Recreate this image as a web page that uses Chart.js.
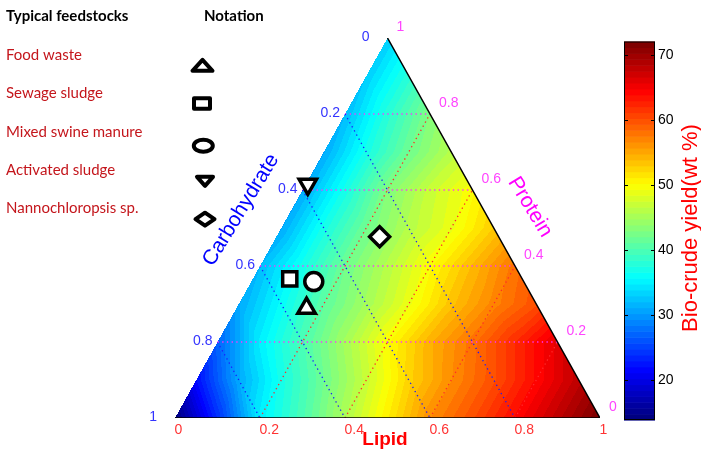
<!DOCTYPE html>
<html>
<head>
<meta charset="utf-8">
<script src="https://cdn.jsdelivr.net/npm/chart.js@4/dist/chart.umd.min.js"></script>
<style>
  body { margin: 0; background: #fff; }
  #wrap { width: 701px; height: 451px; }
</style>
</head>
<body>
<div id="wrap"><canvas id="ternaryChart" width="701" height="451"></canvas></div>
<script>
// feedstock composition (mass fraction), carbohydrate = 1 - lipid - protein
var feedstocks = ['Food waste', 'Sewage sludge', 'Mixed swine manure', 'Activated sludge', 'Nannochloropsis sp.'];
var lipidShare = [0.165, 0.087, 0.147, 0.005, 0.243];
var proteinShare = [0.289, 0.366, 0.359, 0.615, 0.477];
var markerStyles = ['triangle', 'rect', 'circle', 'triangle', 'rectRot'];
var markerRotation = [0, 0, 0, 180, 0];

// axis ticks
var lipidTicks = [0, 0.2, 0.4, 0.6, 0.8, 1];
var proteinTicks = [0, 0.2, 0.4, 0.6, 0.8, 1];
var carbTicks = [0, 0.2, 0.4, 0.6, 0.8, 1];
var gridLevels = [0.2, 0.4, 0.6, 0.8];
var colorbarTicks = [20, 30, 40, 50, 60, 70];
var colorbarRange = [13.9, 72];

// bio-crude yield (wt %) read at lipid = 0, 0.1, 0.2 ... for each protein level
var yieldP00 = [14, 24, 35, 40, 45.5, 51, 56.5, 60, 64, 68, 72];
var yieldP01 = [22, 31, 37, 42, 47, 52.5, 56.5, 60, 64, 68];
var yieldP02 = [27, 35, 40, 45, 50, 54.5, 58, 62, 66];
var yieldP03 = [31, 36, 41, 45, 49, 53.5, 57, 60];
var yieldP04 = [32, 37, 42, 46, 50, 54, 58];
var yieldP05 = [31, 37, 42, 46, 49, 53];
var yieldP06 = [31, 37, 43, 47, 50];
var yieldP07 = [31, 37, 42, 46];
var yieldP08 = [32, 38, 43];
var yieldP09 = [33, 38];
var yieldP10 = [33];
var yieldRows = [yieldP00, yieldP01, yieldP02, yieldP03, yieldP04, yieldP05,
                 yieldP06, yieldP07, yieldP08, yieldP09, yieldP10];

// ternary -> cartesian (lipid along the base, protein up)
function tern(L, P) { return { x: L + P / 2, y: P }; }

function jet(v) {
    var t = (v - colorbarRange[0]) / (colorbarRange[1] - colorbarRange[0]);
    var idx = Math.max(0, Math.min(63, Math.floor(t * 64)));
    t = idx / 63;
    function c(a) { return Math.round(255 * Math.max(0, Math.min(1, a))); }
    return [c(1.5 - Math.abs(4 * t - 3)), c(1.5 - Math.abs(4 * t - 2)), c(1.5 - Math.abs(4 * t - 1))];
}

function node(r, c) { return yieldRows[r][c]; }

function yieldAt(L, P) {
    var i = P * 10, j = L * 10;
    var r = Math.floor(i), c = Math.floor(j);
    if (r > 9) r = 9;
    if (r + c > 9) c = 9 - r;
    if (c < 0) c = 0;
    var fi = i - r, fj = j - c;
    if (fi + fj <= 1) {
        var v0 = node(r, c);
        return v0 + fi * (node(r + 1, c) - v0) + fj * (node(r, c + 1) - v0);
    }
    var v1 = node(r + 1, c + 1);
    return v1 + (1 - fi) * (node(r, c + 1) - v1) + (1 - fj) * (node(r + 1, c) - v1);
}

var datasets = [];

// markers
feedstocks.forEach(function (name, k) {
    datasets.push({
        label: name,
        data: [tern(lipidShare[k], proteinShare[k])],
        pointStyle: markerStyles[k],
        rotation: markerRotation[k],
        pointRadius: markerStyles[k] === 'circle' ? 9 : 10,
        borderWidth: 3.5,
        borderColor: '#000',
        backgroundColor: '#fff',
        order: 0
    });
});

// dotted grid lines
gridLevels.forEach(function (g) {
    datasets.push({ data: [tern(0, g), tern(1 - g, g)], showLine: true, pointRadius: 0,
        borderColor: '#ff33ff', borderWidth: 1.3, borderDash: [1.3, 3.4], order: 2 });
    datasets.push({ data: [tern(0, 1 - g), tern(1 - g, 0)], showLine: true, pointRadius: 0,
        borderColor: '#1a1aff', borderWidth: 1.3, borderDash: [1.3, 3.4], order: 2 });
    datasets.push({ data: [tern(g, 0), tern(g, 1 - g)], showLine: true, pointRadius: 0,
        borderColor: '#ff2a2a', borderWidth: 1.3, borderDash: [1.3, 3.4], order: 2 });
});

// triangle outline (base and right edge)
datasets.push({ data: [tern(0, 0), tern(1, 0), tern(0, 1)], showLine: true, pointRadius: 0,
    borderColor: '#000', borderWidth: 1.5, order: 1 });

var fieldPlugin = {
    id: 'yieldField',
    beforeDatasetsDraw: function (chart) {
        var ctx = chart.ctx, xs = chart.scales.x, ys = chart.scales.y, area = chart.chartArea;
        var x0 = Math.floor(area.left), y0 = Math.floor(area.top);
        var w = Math.ceil(area.right) - x0 + 1, h = Math.ceil(area.bottom) - y0 + 1;
        var off = document.createElement('canvas');
        off.width = w; off.height = h;
        var octx = off.getContext('2d');
        var img = octx.createImageData(w, h);
        for (var py = 0; py < h; py++) {
            var P = ys.getValueForPixel(y0 + py + 0.5);
            for (var px = 0; px < w; px++) {
                var L = xs.getValueForPixel(x0 + px + 0.5) - P / 2;
                if (P < 0 || L < 0 || L + P > 1) continue;
                var col = jet(yieldAt(L, P));
                var k = (py * w + px) * 4;
                img.data[k] = col[0]; img.data[k + 1] = col[1]; img.data[k + 2] = col[2]; img.data[k + 3] = 255;
            }
        }
        octx.putImageData(img, 0, 0);
        ctx.drawImage(off, x0, y0);
    }
};

function text(ctx, s, x, y, font, color, align, angle) {
    ctx.save();
    ctx.translate(x, y);
    if (angle) ctx.rotate(angle * Math.PI / 180);
    ctx.font = font;
    ctx.fillStyle = color;
    ctx.textAlign = align || 'center';
    ctx.textBaseline = 'middle';
    ctx.fillText(s, 0, 0);
    ctx.restore();
}

function legendShape(ctx, k, cx, cy) {
    ctx.save();
    ctx.beginPath();
    if (k === 0) {
        ctx.moveTo(cx, cy - 5.5); ctx.lineTo(cx + 10, cy + 5.5); ctx.lineTo(cx - 10, cy + 5.5); ctx.closePath();
    } else if (k === 1) {
        ctx.rect(cx - 8, cy - 5.3, 16, 10.6);
    } else if (k === 2) {
        ctx.ellipse(cx, cy, 9.5, 6, 0, 0, Math.PI * 2);
    } else if (k === 3) {
        ctx.moveTo(cx - 8, cy - 4.5); ctx.lineTo(cx + 8, cy - 4.5); ctx.lineTo(cx, cy + 4.5); ctx.closePath();
    } else {
        ctx.moveTo(cx, cy - 6.5); ctx.lineTo(cx + 9.5, cy); ctx.lineTo(cx, cy + 6.5); ctx.lineTo(cx - 9.5, cy); ctx.closePath();
    }
    ctx.fillStyle = '#fff';
    ctx.fill();
    ctx.lineWidth = 4;
    ctx.lineJoin = 'round';
    ctx.strokeStyle = '#000';
    ctx.stroke();
    ctx.restore();
}

var labelPlugin = {
    id: 'labels',
    afterDraw: function (chart) {
        var ctx = chart.ctx, xs = chart.scales.x, ys = chart.scales.y;
        var tickFont = '14px "Liberation Sans", Arial, sans-serif';

        // lipid ticks (bottom)
        lipidTicks.forEach(function (v) {
            var p = tern(v, 0);
            text(ctx, String(v), xs.getPixelForValue(p.x) - 0.5, ys.getPixelForValue(0) + 12, tickFont, '#ff3333', 'left');
        });
        // carbohydrate ticks (left edge)
        carbTicks.forEach(function (v) {
            var p = tern(0, 1 - v);
            var extra = (v === 0 || v === 1) ? 13 : 0;
            text(ctx, String(v), xs.getPixelForValue(p.x) - 5 - extra, ys.getPixelForValue(p.y) - 1, tickFont, '#3333ff', 'right');
        });
        // protein ticks (right edge)
        proteinTicks.forEach(function (v) {
            var p = tern(1 - v, v);
            text(ctx, String(v), xs.getPixelForValue(p.x) + 9, ys.getPixelForValue(p.y) - 11, tickFont, '#ff44ff', 'left');
        });

        var titleFont = '21px "Liberation Sans", Arial, sans-serif';
        text(ctx, 'Carbohydrate', 241, 210, titleFont, '#0000ff', 'center', -58.5);
        text(ctx, 'Protein', 530, 207, titleFont, '#ff00ff', 'center', 58.5);
        text(ctx, 'Lipid', 385, 440, 'bold 19px "Liberation Sans", Arial, sans-serif', '#ff0000', 'center');

        // colorbar
        var cbL = 624, cbR = 655, cbT = 41.5, cbB = 420;
        var lo = colorbarRange[0], hi = colorbarRange[1];
        for (var i = 0; i < 64; i++) {
            var v = lo + (i + 0.5) * (hi - lo) / 64;
            var col = jet(v);
            var yTop = cbB - (i + 1) * (cbB - cbT) / 64, yBot = cbB - i * (cbB - cbT) / 64;
            ctx.fillStyle = 'rgb(' + col.join(',') + ')';
            ctx.fillRect(cbL, yTop, cbR - cbL, yBot - yTop + 0.6);
        }
        ctx.strokeStyle = '#000';
        ctx.lineWidth = 1;
        ctx.strokeRect(cbL + 0.5, cbT + 0.5, cbR - cbL - 1, cbB - cbT - 1);
        colorbarTicks.forEach(function (t) {
            var y = Math.round(cbB - (t - lo) / (hi - lo) * (cbB - cbT)) + 0.5;
            ctx.beginPath();
            ctx.moveTo(cbL, y); ctx.lineTo(cbL + 4, y);
            ctx.moveTo(cbR - 4, y); ctx.lineTo(cbR, y);
            ctx.stroke();
            text(ctx, String(t), cbR + 3, y, tickFont, '#000', 'left');
        });
        text(ctx, 'Bio-crude yield(wt %)', 691, 228, '22px "Liberation Sans", Arial, sans-serif', '#ff0000', 'center', -90);

        // feedstock list and notation
        var boldFont = 'bold 15px Lato, "Open Sans", sans-serif';
        text(ctx, 'Typical feedstocks', 6, 16, boldFont, '#000', 'left');
        text(ctx, 'Notation', 204, 16, boldFont, '#000', 'left');
        var rowY = [55, 93, 132, 170, 208.5];
        var shapeY = [65.3, 103.5, 145.8, 181.3, 219.2];
        var shapeX = [202.5, 202, 203.3, 205, 205];
        feedstocks.forEach(function (name, k) {
            text(ctx, name, 6, rowY[k], '15px Lato, "Open Sans", sans-serif', '#c4161c', 'left');
            legendShape(ctx, k, shapeX[k], shapeY[k]);
        });
    }
};

var ctx = document.getElementById('ternaryChart').getContext('2d');

var myChart = new Chart(ctx, {
    type: 'scatter',
    data: { datasets: datasets },
    options: {
        responsive: false,
        animation: false,
        events: [],
        layout: { padding: { left: 175, right: 101, top: 38, bottom: 33 } },
        scales: {
            x: { type: 'linear', min: 0, max: 1, display: false },
            y: { type: 'linear', min: 0, max: 1, display: false }
        },
        plugins: { legend: { display: false }, tooltip: { enabled: false } }
    },
    plugins: [fieldPlugin, labelPlugin]
});
</script>
</body>
</html>
